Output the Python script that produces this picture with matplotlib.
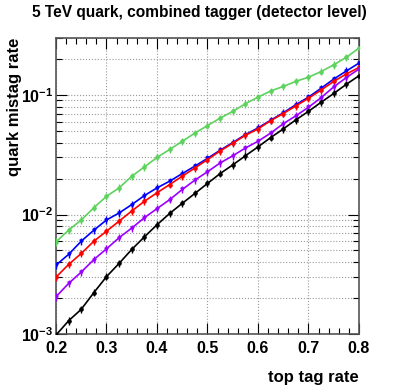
import matplotlib
matplotlib.use('Agg')
import matplotlib.pyplot as plt
import numpy as np
from matplotlib.ticker import LogLocator, MultipleLocator, NullFormatter, FixedLocator

plt.rcParams['font.family'] = ['Liberation Sans', 'DejaVu Sans']
plt.rcParams['font.weight'] = 'bold'
plt.rcParams['mathtext.fontset'] = 'custom'
plt.rcParams['mathtext.rm'] = 'Liberation Sans:bold'
plt.rcParams['mathtext.bf'] = 'Liberation Sans:bold'

# top tag rate (x) and quark mistag rate for each tagger curve
top_rate = [0.2, 0.225, 0.25, 0.275, 0.3, 0.325, 0.35, 0.375, 0.4, 0.425, 0.45, 0.475,
            0.5, 0.525, 0.55, 0.575, 0.6, 0.625, 0.65, 0.675, 0.7, 0.725, 0.75, 0.775, 0.8]

green = [0.0059, 0.0074, 0.0090, 0.0114, 0.0142, 0.0167, 0.0209, 0.0250, 0.0300, 0.0350,
         0.0410, 0.0480, 0.0555, 0.0640, 0.0730, 0.0845, 0.0960, 0.1080, 0.1180, 0.1300,
         0.1410, 0.1570, 0.1790, 0.2070, 0.2470]
blue = [0.00377, 0.00464, 0.00598, 0.0074, 0.0090, 0.0103, 0.0121, 0.0144, 0.0167, 0.0190,
        0.0220, 0.0254, 0.0295, 0.0345, 0.0400, 0.0466, 0.0530, 0.0615, 0.0710, 0.0830,
        0.0960, 0.1140, 0.1360, 0.1590, 0.1850]
red = [0.00299, 0.00382, 0.00472, 0.00598, 0.00725, 0.0088, 0.0107, 0.0129, 0.0152, 0.0178,
       0.0209, 0.0245, 0.0288, 0.0340, 0.0395, 0.0460, 0.0520, 0.0610, 0.0700, 0.0810,
       0.0940, 0.1100, 0.1300, 0.1500, 0.1700]
purple = [0.00205, 0.00265, 0.0033, 0.0042, 0.00516, 0.0064, 0.0077, 0.0094, 0.0112, 0.0133,
          0.0162, 0.0194, 0.0228, 0.0270, 0.0310, 0.0360, 0.0410, 0.0480, 0.0575, 0.0670,
          0.0790, 0.0950, 0.1170, 0.1400, 0.1650]
black = [0.00098, 0.00129, 0.00161, 0.00222, 0.00302, 0.0039, 0.0051, 0.0065, 0.0082, 0.0102,
         0.0124, 0.0150, 0.0182, 0.0220, 0.0260, 0.0310, 0.0368, 0.0440, 0.0520, 0.0620,
         0.0730, 0.0870, 0.1030, 0.1230, 0.1450]

x_ticks = [0.2, 0.3, 0.4, 0.5, 0.6, 0.7, 0.8]
x_ticklabels = ['0.2', '0.3', '0.4', '0.5', '0.6', '0.7', '0.8']
y_ticks = [1e-3, 1e-2, 1e-1]
y_ticklabels = [r'$10^{-3}$', r'$10^{-2}$', r'$10^{-1}$']

fig = plt.figure(figsize=(3.99, 3.85), dpi=100)
ax = fig.add_axes([56/399, 1 - 334/385, 303/399, 296/385])

curves = [
    (green, '#5dd25d', 'o'),
    (blue, '#0000ff', 'v'),
    (red, '#ff0000', 'o'),
    (purple, '#9b00ff', 'v'),
    (black, '#000000', 'o'),
]
x = np.array(top_rate)
for vals, col, mk in curves:
    v = np.array(vals)
    ax.errorbar(x, v, yerr=0.07 * v, color=col, marker=mk, markersize=2.3,
                lw=1.2, elinewidth=1.0, capsize=0, zorder=3)

ax.set_yscale('log')
ax.set_xlim(0.2, 0.8)
ax.set_ylim(1e-3, 0.3)

ax.xaxis.set_major_locator(FixedLocator(x_ticks))
ax.set_xticklabels(x_ticklabels)
ax.xaxis.set_minor_locator(MultipleLocator(0.02))
ax.yaxis.set_major_locator(FixedLocator(y_ticks))
ax.set_yticklabels(y_ticklabels)
ax.yaxis.set_minor_locator(LogLocator(base=10, subs=np.arange(2, 10)))
ax.yaxis.set_minor_formatter(NullFormatter())

ax.tick_params(which='both', direction='in', top=True, right=True, labelsize=11.5, colors='#000000')
ax.tick_params(which='major', length=8, width=0.8)
ax.tick_params(which='minor', length=4, width=0.8)
ax.tick_params(axis='x', pad=5)
ax.tick_params(axis='y', pad=2)

ax.grid(True, which='major', axis='x', color='#999999', linestyle=':', linewidth=0.8)
ax.grid(True, which='both', axis='y', color='#999999', linestyle=':', linewidth=0.8)
ax.set_axisbelow(True)

for s in ax.spines.values():
    s.set_color('#555555')
    s.set_linewidth(1.2)

fig.text(0.5, 1 - 12/385, '5 TeV quark, combined tagger (detector level)', ha='center', va='center',
         fontsize=11.2, fontweight='bold')
ax.set_xlabel('top tag rate', fontsize=12, fontweight='bold', loc='right', labelpad=10)
fig.text(15/399, 1 - 38/385, 'quark mistag rate', rotation=90, ha='center', va='top',
         fontsize=12, fontweight='bold')

fig.savefig('out.png', dpi=100)
